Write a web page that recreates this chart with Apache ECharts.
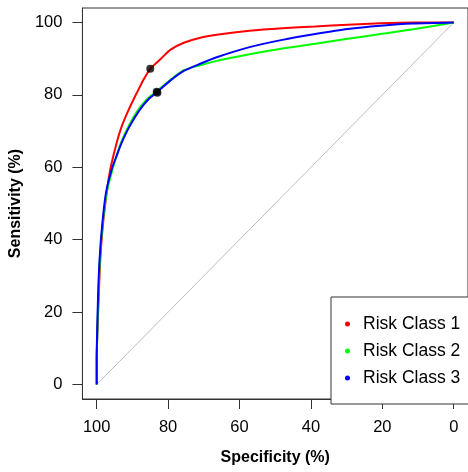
<!DOCTYPE html>
<html>
<head>
<meta charset="utf-8">
<script src="https://cdn.jsdelivr.net/npm/echarts@6/dist/echarts.min.js"></script>
<style>html,body{margin:0;padding:0;background:#fff;}#c{width:468px;height:472px;}</style>
</head>
<body>
<div id="c"></div>
<script>
const seriesNames = ['Risk Class 1', 'Risk Class 2', 'Risk Class 3'];
const tickValues = [0, 20, 40, 60, 80, 100];

const spec1 = [100, 100, 99.6, 99.4, 99.0, 98.3, 97.2, 96.2, 94.4, 93.0, 91.0, 88.9, 87.0, 85.0, 82.0, 79.3, 75.6, 71.0, 66.4, 57.2, 48.0, 38.8, 29.7, 20.5, 11.3, 0];
const sens1 = [0, 7, 20, 25.3, 34.5, 43.7, 53.0, 59.4, 66.8, 71.3, 76.0, 80.3, 84.0, 87.2, 90.0, 92.5, 94.4, 95.8, 96.6, 97.7, 98.4, 98.9, 99.4, 99.8, 100, 100];

const spec2 = [100, 100, 99.5, 99.1, 98.4, 97.2, 95.6, 94.4, 93.2, 91.0, 88.3, 85.7, 83.2, 79.3, 75.6, 71.0, 66.4, 57.2, 48.0, 38.8, 29.7, 20.5, 11.3, 0];
const sens2 = [0, 5, 25.0, 34.5, 43.7, 53.0, 59.4, 63.2, 66.8, 71.5, 76.0, 79.0, 81.0, 84.2, 86.8, 88.2, 89.4, 91.2, 92.8, 94.1, 95.5, 96.8, 98.1, 100];

const spec3 = [100, 100, 99.6, 99.2, 98.5, 97.4, 95.8, 94.3, 93.0, 90.8, 88.0, 85.5, 83.1, 79.3, 75.6, 71.0, 66.4, 57.2, 48.0, 38.8, 29.7, 20.5, 11.3, 0];
const sens3 = [0, 7, 25.0, 34.5, 43.7, 53.0, 59.4, 63.5, 66.8, 71.3, 75.8, 78.8, 80.8, 84.0, 86.6, 88.6, 90.4, 93.2, 95.2, 96.8, 98.2, 99.1, 99.7, 100];

const dotSpec = [85.0, 83.2, 83.0];
const dotSens = [87.2, 80.9, 80.6];

const diagSpec = [100, 0];
const diagSens = [0, 100];

function zip(a, b) { return a.map((v, i) => [v, b[i]]); }

const colors = ['#FF0000', '#00FF00', '#0000FF'];
const font = "'Liberation Sans', Arial, sans-serif";

const chart = echarts.init(document.getElementById('c'), null, { renderer: 'canvas' });
const lineSeries = [[spec1, sens1], [spec2, sens2], [spec3, sens3]].map((d, i) => ({
  name: seriesNames[i],
  type: 'line',
  data: zip(d[0], d[1]),
  showSymbol: false,
  symbol: 'none',
  smooth: 0.25,
  color: colors[i],
  lineStyle: { color: colors[i], width: 2 },
  z: 3 + i,
  silent: true
}));

chart.setOption({
  animation: false,
  backgroundColor: '#fff',
  grid: { left: 80, top: 8, width: 392, height: 391, show: true, borderColor: '#333', borderWidth: 1, backgroundColor: 'transparent' },
  xAxis: {
    type: 'value', min: -4, max: 104, inverse: true,
    name: 'Specificity (%)', nameLocation: 'middle', nameGap: 51,
    nameTextStyle: { fontFamily: font, fontSize: 16, fontWeight: 'bold', color: '#000' },
    axisLine: { show: true, onZero: false, lineStyle: { color: '#333', width: 1 } },
    axisTick: { show: true, inside: false, length: 10, customValues: tickValues, lineStyle: { color: '#333' } },
    axisLabel: { customValues: tickValues, margin: 20, fontFamily: font, fontSize: 16.5, color: '#000' },
    splitLine: { show: false }
  },
  yAxis: {
    type: 'value', min: -4, max: 104,
    name: 'Sensitivity (%)', nameLocation: 'middle', nameGap: 51,
    nameTextStyle: { fontFamily: font, fontSize: 16, fontWeight: 'bold', color: '#000' },
    axisLine: { show: true, onZero: false, lineStyle: { color: '#333', width: 1 } },
    axisTick: { show: true, inside: false, length: 10, customValues: tickValues, lineStyle: { color: '#333' } },
    axisLabel: { customValues: tickValues, margin: 20, fontFamily: font, fontSize: 16.5, color: '#000' },
    splitLine: { show: false }
  },
  legend: {
    data: seriesNames,
    orient: 'vertical',
    left: 331, top: 297,
    icon: 'circle',
    itemWidth: 5, itemHeight: 5,
    itemGap: 9,
    padding: [18, 14, 17, 14],
    borderColor: '#333', borderWidth: 1,
    backgroundColor: '#fff',
    textStyle: { fontFamily: font, fontSize: 17.5, color: '#000', lineHeight: 16, padding: [0, 0, 0, 8] },
    selectedMode: false
  },
  series: [
    {
      type: 'line',
      data: zip(diagSpec, diagSens),
      showSymbol: false, symbol: 'none',
      lineStyle: { color: '#bebebe', width: 1 },
      z: 1, silent: true
    },
    ...lineSeries,
    {
      type: 'scatter',
      data: zip(dotSpec, dotSens),
      symbol: 'circle', symbolSize: 8,
      itemStyle: { color: '#000' },
      z: 10, silent: true
    }
  ]
});
</script>
</body>
</html>
